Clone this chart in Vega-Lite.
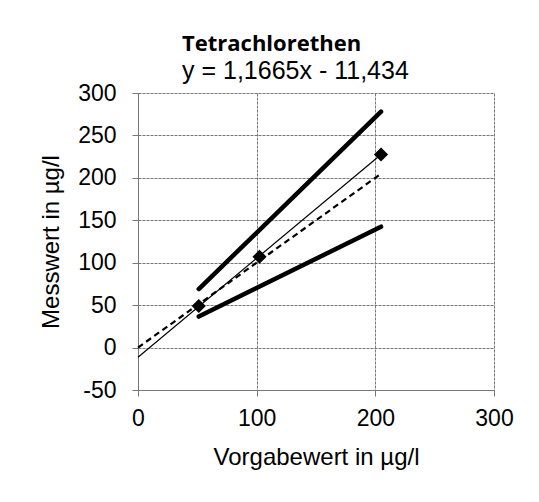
{
  "$schema": "https://vega.github.io/schema/vega-lite/v6.json",
  "autosize": {"type": "none"},
  "width": 356,
  "height": 297,
  "padding": {"left": 138, "top": 93, "right": 45, "bottom": 112},
  "background": "white",
  "title": {
    "text": "Tetrachlorethen",
    "subtitle": "y = 1,1665x - 11,434",
    "anchor": "start",
    "frame": "group",
    "dx": 44,
    "font": "Open Sans",
    "fontSize": 22,
    "fontWeight": "bold",
    "color": "black",
    "subtitleFont": "Liberation Sans",
    "subtitleFontSize": 25,
    "subtitleColor": "black",
    "subtitlePadding": 3,
    "offset": -3
  },
  "datasets": {
    "lines": [
      {"series": "Obergrenze", "x": 51.2, "y": 69},
      {"series": "Obergrenze", "x": 204.8, "y": 278},
      {"series": "Untergrenze", "x": 51.2, "y": 36.5},
      {"series": "Untergrenze", "x": 204.8, "y": 142.5},
      {"series": "Regression", "x": 0, "y": -11.4},
      {"series": "Regression", "x": 204.8, "y": 227.5},
      {"series": "Ideal", "x": 0, "y": 0},
      {"series": "Ideal", "x": 204.8, "y": 204.8}
    ],
    "points": [
      {"x": 51.2, "y": 49},
      {"x": 102.4, "y": 107},
      {"x": 204.8, "y": 227.5}
    ]
  },
  "config": {
    "view": {"stroke": null},
    "axis": {
      "labelFont": "Liberation Sans",
      "labelFontSize": 23,
      "labelColor": "black",
      "titleFont": "Liberation Sans",
      "titleFontSize": 24,
      "titleFontWeight": "normal",
      "titleColor": "black",
      "gridColor": "#777",
      "gridWidth": 1,
      "gridDash": [3, 1],
      "domainColor": "#777",
      "tickColor": "#777",
      "tickSize": 6
    }
  },
  "encoding": {
    "x": {
      "field": "x",
      "type": "quantitative",
      "scale": {"domain": [0, 300], "nice": false, "zero": false},
      "axis": {"values": [0, 100, 200, 300], "title": "Vorgabewert in µg/l", "labelPadding": 11, "titlePadding": 15, "labelFlush": false, "labelExpr": "datum.value + ''"}
    },
    "y": {
      "field": "y",
      "type": "quantitative",
      "scale": {"domain": [-50, 300], "nice": false, "zero": false},
      "axis": {"values": [-50, 0, 50, 100, 150, 200, 250, 300], "title": "Messwert in µg/l", "labelPadding": 16, "titlePadding": 14, "labelFlush": false, "labelExpr": "datum.value + ''"}
    }
  },
  "layer": [
    {
      "data": {"name": "lines"},
      "transform": [{"filter": "datum.series === 'Ideal'"}],
      "mark": {"type": "line", "color": "black", "strokeWidth": 2.2, "strokeDash": [6, 4]}
    },
    {
      "data": {"name": "lines"},
      "transform": [{"filter": "datum.series === 'Regression'"}],
      "mark": {"type": "line", "color": "black", "strokeWidth": 1.2}
    },
    {
      "data": {"name": "lines"},
      "transform": [{"filter": "datum.series === 'Obergrenze' || datum.series === 'Untergrenze'"}],
      "mark": {"type": "line", "color": "black", "strokeWidth": 4.5, "strokeCap": "round"},
      "encoding": {"detail": {"field": "series"}}
    },
    {
      "data": {"name": "points"},
      "mark": {"type": "point", "shape": "diamond", "filled": true, "color": "black", "size": 200, "opacity": 1}
    }
  ]
}
